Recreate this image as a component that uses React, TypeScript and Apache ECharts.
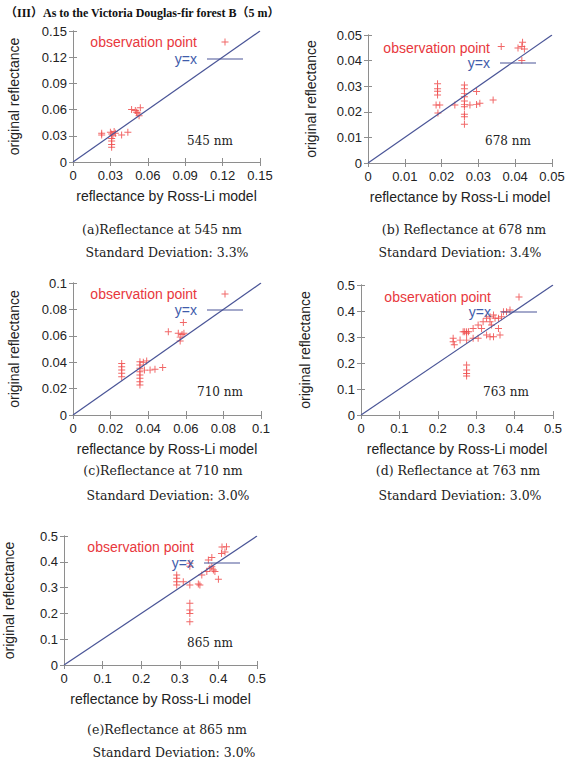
import React, { useEffect, useRef } from "react";
import * as echarts from "echarts";

// Texts
const pageTitle = "（III）As to the Victoria Douglas-fir forest B（5 m）";
const modelAxisName = "reflectance by Ross-Li model";
const originalAxisName = "original reflectance";
const pointSeriesName = "observation point";
const lineSeriesName = "y=x";

const bandLabels = ["545 nm", "678 nm", "710 nm", "763 nm", "865 nm"];
const captions = [
  "(a)Reflectance at 545 nm",
  "(b) Reflectance at 678 nm",
  "(c)Reflectance at 710 nm",
  "(d) Reflectance at 763 nm",
  "(e)Reflectance at 865 nm",
];
const deviations = [
  "Standard Deviation: 3.3%",
  "Standard Deviation: 3.4%",
  "Standard Deviation: 3.0%",
  "Standard Deviation: 3.0%",
  "Standard Deviation: 3.0%",
];

// Axis ranges (both axes of a panel share the same range)
const axisMax = [0.15, 0.05, 0.1, 0.5, 0.5];
const axisStep = [0.03, 0.01, 0.02, 0.1, 0.1];

// Observations: [reflectance by Ross-Li model, original reflectance]
const obs545 = [
  [0.023, 0.031], [0.023, 0.033], [0.030, 0.034], [0.031, 0.032], [0.032, 0.030],
  [0.033, 0.035], [0.034, 0.033], [0.031, 0.027], [0.031, 0.024], [0.031, 0.020],
  [0.031, 0.017], [0.039, 0.031], [0.044, 0.034], [0.047, 0.060], [0.050, 0.059],
  [0.052, 0.056], [0.054, 0.062], [0.053, 0.053], [0.051, 0.057],
];
const obs678 = [
  [0.0189, 0.031], [0.0189, 0.029], [0.0189, 0.028], [0.0189, 0.0266], [0.0185, 0.0227],
  [0.0195, 0.0227], [0.019, 0.0195],
  [0.0262, 0.0305], [0.0262, 0.029], [0.0262, 0.0272], [0.0262, 0.0259], [0.0262, 0.0242],
  [0.0262, 0.0229], [0.0262, 0.022], [0.0262, 0.019], [0.0262, 0.0181], [0.0262, 0.0151],
  [0.0236, 0.0227], [0.0277, 0.0227], [0.0295, 0.0229], [0.0304, 0.0233], [0.0295, 0.0279],
  [0.034, 0.0246], [0.0362, 0.0455], [0.042, 0.0472], [0.0418, 0.0455], [0.0425, 0.0445],
  [0.0418, 0.040],
];
const obs710 = [
  [0.0259, 0.039], [0.0259, 0.0366], [0.0259, 0.0341], [0.0259, 0.0316], [0.0259, 0.029],
  [0.0356, 0.0404], [0.0356, 0.0379], [0.0356, 0.0354], [0.0356, 0.0328], [0.0356, 0.0303],
  [0.0356, 0.0278], [0.0356, 0.0252], [0.0356, 0.0227],
  [0.0374, 0.040], [0.0392, 0.041], [0.038, 0.034], [0.041, 0.034], [0.0436, 0.0346],
  [0.0477, 0.0359], [0.0507, 0.063], [0.056, 0.062], [0.058, 0.061], [0.059, 0.062],
  [0.057, 0.059], [0.0587, 0.070], [0.057, 0.056],
];
const obs763 = [
  [0.275, 0.320], [0.275, 0.314], [0.275, 0.192], [0.275, 0.173], [0.275, 0.160], [0.275, 0.150],
  [0.240, 0.295], [0.240, 0.282], [0.243, 0.270], [0.266, 0.320], [0.270, 0.320], [0.280, 0.320],
  [0.292, 0.333], [0.305, 0.346], [0.318, 0.359], [0.327, 0.372], [0.336, 0.378], [0.345, 0.385],
  [0.349, 0.372], [0.336, 0.359], [0.340, 0.346], [0.314, 0.333], [0.327, 0.308], [0.336, 0.301],
  [0.345, 0.301], [0.292, 0.295], [0.305, 0.295], [0.258, 0.288], [0.275, 0.288], [0.358, 0.372],
  [0.366, 0.378], [0.358, 0.333], [0.362, 0.308], [0.371, 0.397], [0.379, 0.397], [0.388, 0.404],
];
const obs865 = [
  [0.292, 0.349], [0.292, 0.336], [0.292, 0.323], [0.292, 0.310],
  [0.326, 0.394], [0.326, 0.383], [0.326, 0.310], [0.326, 0.239], [0.326, 0.213], [0.326, 0.200],
  [0.326, 0.168], [0.348, 0.314], [0.309, 0.323], [0.357, 0.349], [0.370, 0.362], [0.378, 0.375],
  [0.383, 0.381], [0.387, 0.368], [0.391, 0.362], [0.400, 0.332], [0.383, 0.417], [0.374, 0.407],
  [0.421, 0.458], [0.417, 0.438], [0.408, 0.432], [0.352, 0.310],
];
const observations = [obs545, obs678, obs710, obs763, obs865];

// Panel placement on the page (pixels)
const panelLayout = [
  { left: 73, top: 31, width: 187, height: 131, legendRight: 327, legendTop: 35, legendGap: 3, yNameGap: 52, bandX: 210, bandY: 141, capX: 162, sdX: 167, capY: 229, sdY: 252 },
  { left: 368, top: 35, width: 184, height: 128, legendRight: 34, legendTop: 41, legendGap: 1, yNameGap: 50, bandX: 508, bandY: 141, capX: 464, sdX: 460, capY: 229, sdY: 252 },
  { left: 73, top: 283, width: 188, height: 132, legendRight: 327, legendTop: 287, legendGap: 2, yNameGap: 52, bandX: 220, bandY: 392, capX: 163, sdX: 168, capY: 470, sdY: 495 },
  { left: 361, top: 285, width: 192, height: 130, legendRight: 33, legendTop: 290, legendGap: 1, yNameGap: 49, bandX: 506, bandY: 392, capX: 458, sdX: 460, capY: 470, sdY: 495 },
  { left: 64, top: 536, width: 193, height: 129, legendRight: 330, legendTop: 540, legendGap: 2, yNameGap: 48, bandX: 210, bandY: 643, capX: 167, sdX: 174, capY: 729, sdY: 752 },
];

const SANS = "'Liberation Sans', Arial, sans-serif";
const SERIF = "'DejaVu Serif', serif";
const TITLE_SERIF = "'Liberation Serif', 'Noto Sans CJK JP', serif";
const POINT_RED = "#ef4c4c";
const LEGEND_RED = "#e8383d";
const LINE_BLUE = "#4a5597";
const LEGEND_BLUE = "#3f5cab";
const FRAME = "#8e8e8e";
const CROSS = "path://M0,4.3H10V5.7H0Z M4.3,0H5.7V10H4.3Z";
const LINE_SAMPLE = "path://M0,0H36V1.2H0Z";

const fmt = (v: number) => String(Number(v.toFixed(4)));

function buildOption() {
  const grid: any[] = [];
  const xAxis: any[] = [];
  const yAxis: any[] = [];
  const series: any[] = [];
  const legend: any[] = [];
  const graphic: any[] = [];

  panelLayout.forEach((p, i) => {
    grid.push({ left: p.left, top: p.top, width: p.width, height: p.height, containLabel: false });
    const common = {
      type: "value",
      gridIndex: i,
      min: 0,
      max: axisMax[i],
      interval: axisStep[i],
      splitLine: { show: false },
      axisLine: { show: true, lineStyle: { color: FRAME, width: 1 } },
      axisTick: { show: true, inside: true, length: 4, lineStyle: { color: FRAME } },
    };
    const labelStyle = { color: "#222", fontSize: 13, fontFamily: SANS, formatter: fmt };
    xAxis.push({
      ...common,
      position: "bottom",
      axisLabel: { ...labelStyle, margin: 7 },
      name: modelAxisName,
      nameLocation: "middle",
      nameGap: 27,
      nameTextStyle: { color: "#222", fontSize: 14, fontFamily: SANS },
    });
    xAxis.push({ ...common, position: "top", axisLabel: { show: false } });
    yAxis.push({
      ...common,
      position: "left",
      axisLabel: { ...labelStyle, margin: 6 },
      name: originalAxisName,
      nameLocation: "middle",
      nameGap: p.yNameGap,
      nameTextStyle: { color: "#222", fontSize: 14, fontFamily: SANS },
    });
    yAxis.push({ ...common, position: "right", axisLabel: { show: false } });

    series.push({
      type: "scatter",
      name: pointSeriesName,
      xAxisIndex: 2 * i,
      yAxisIndex: 2 * i,
      data: observations[i],
      symbol: CROSS,
      symbolSize: 7,
      itemStyle: { color: POINT_RED, opacity: 0.85 },
      silent: true,
    });
    series.push({
      type: "line",
      name: lineSeriesName,
      xAxisIndex: 2 * i,
      yAxisIndex: 2 * i,
      data: [
        [0, 0],
        [axisMax[i], axisMax[i]],
      ],
      showSymbol: false,
      symbol: "none",
      lineStyle: { color: LINE_BLUE, width: 1.2 },
      itemStyle: { color: LINE_BLUE },
      silent: true,
    });

    legend.push({
      orient: "vertical",
      right: p.legendRight,
      top: p.legendTop,
      align: "right",
      padding: 0,
      itemGap: p.legendGap,
      itemWidth: 36,
      itemHeight: 7,
      selectedMode: false,
      textStyle: { fontSize: 14, fontFamily: SANS, lineHeight: 11, padding: [0, 5, 0, 0] },
      data: [
        { name: pointSeriesName, icon: CROSS, textStyle: { color: LEGEND_RED } },
        { name: lineSeriesName, icon: LINE_SAMPLE, itemStyle: { color: LINE_BLUE }, textStyle: { color: LEGEND_BLUE } },
      ],
    });

    graphic.push({
      type: "text",
      x: p.bandX,
      y: p.bandY,
      style: { text: bandLabels[i], fill: "#222", fontSize: 12, fontFamily: SERIF, align: "center", verticalAlign: "middle" },
    });
    graphic.push({
      type: "text",
      x: p.capX,
      y: p.capY,
      style: { text: captions[i], fill: "#222", fontSize: 12.5, fontFamily: SERIF, align: "center", verticalAlign: "middle" },
    });
    graphic.push({
      type: "text",
      x: p.sdX,
      y: p.sdY,
      style: { text: deviations[i], fill: "#222", fontSize: 12.5, fontFamily: SERIF, align: "center", verticalAlign: "middle" },
    });
  });

  graphic.push({
    type: "text",
    x: 5,
    y: 13,
    style: { text: pageTitle, fill: "#111", fontSize: 12, fontWeight: "bold", fontFamily: TITLE_SERIF, align: "left", verticalAlign: "middle" },
  });

  return {
    animation: false,
    backgroundColor: "#ffffff",
    grid,
    xAxis,
    yAxis,
    legend,
    series,
    graphic,
  };
}

export default function App() {
  const ref = useRef<HTMLDivElement>(null);
  useEffect(() => {
    if (!ref.current) return;
    const chart = echarts.init(ref.current, undefined, { renderer: "svg" });
    chart.setOption(buildOption() as any);
    return () => chart.dispose();
  }, []);
  return (
    <div
      ref={ref}
      style={{ position: "absolute", left: 0, top: 0, width: 570, height: 760, background: "#fff" }}
    />
  );
}
